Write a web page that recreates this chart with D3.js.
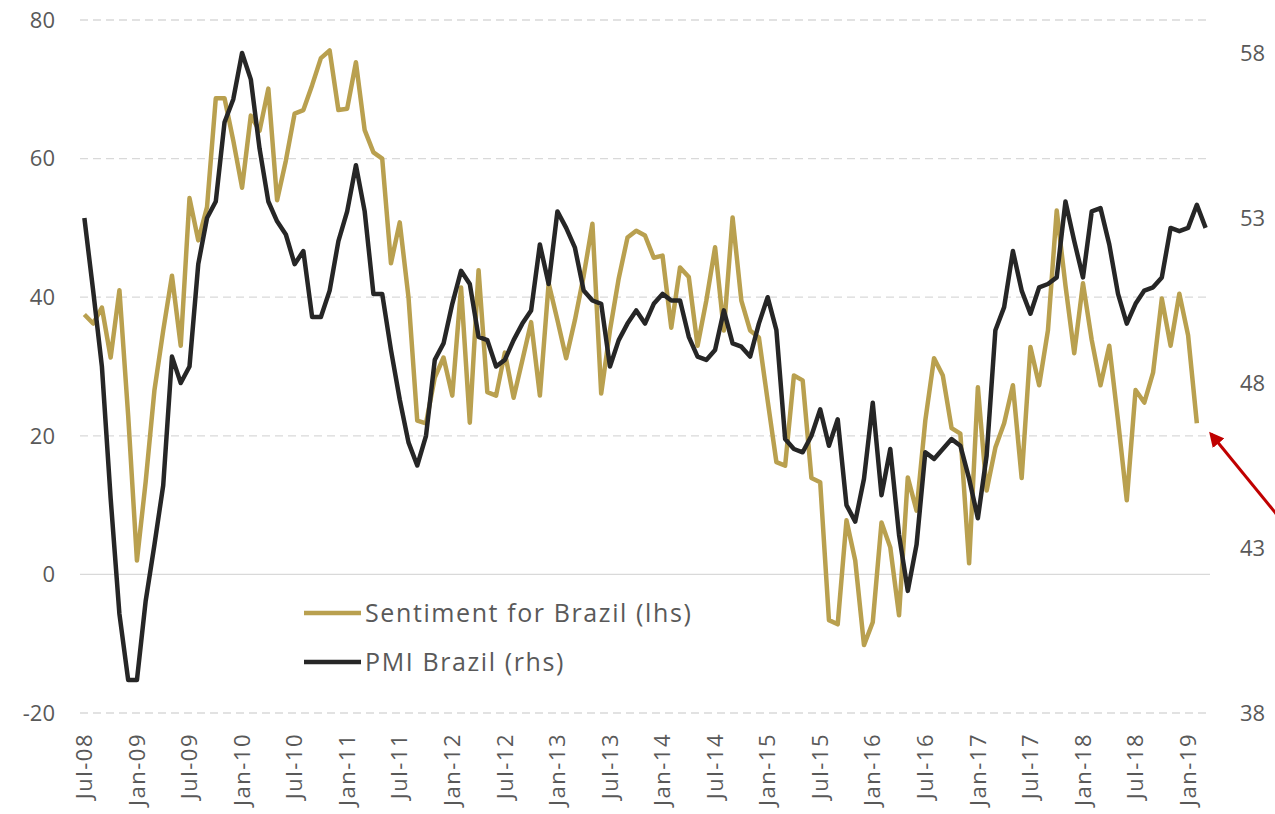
<!DOCTYPE html>
<html>
<head>
<meta charset="utf-8">
<script src="https://cdn.jsdelivr.net/npm/d3@7"></script>
<style>
  body { margin: 0; background: #fff; }
  svg text { font-family: "Open Sans", "Noto Sans", sans-serif; fill: #595959; }
</style>
</head>
<body>
<svg id="chart" width="1275" height="814"></svg>
<script>
// monthly, Jul-08 .. Mar-19
var startMonth = new Date(2008, 6, 1)
var monthCount = 129
var tickEvery = 6
var tickLabels = ['Jul-08', 'Jan-09', 'Jul-09', 'Jan-10', 'Jul-10', 'Jan-11', 'Jul-11', 'Jan-12',
    'Jul-12', 'Jan-13', 'Jul-13', 'Jan-14', 'Jul-14', 'Jan-15', 'Jul-15', 'Jan-16', 'Jul-16',
    'Jan-17', 'Jul-17', 'Jan-18', 'Jul-18', 'Jan-19']

var leftTicks = [-20, 0, 20, 40, 60, 80]
var rightTicks = [38, 43, 48, 53, 58]

// Sentiment for Brazil (lhs), Jul-08 .. Feb-19
var sentiment = [
    37.5, 36.2, 38.5, 31.3, 41.0, 22.9, 2.0, 13.4, 26.6, 35.2, 43.1, 33.0,
    54.3, 48.2, 53.0, 68.7, 68.7, 62.6, 55.8, 66.2, 64.0, 70.1, 54.0, 59.7,
    66.5, 67.0, 70.6, 74.5, 75.6, 67.0, 67.2, 73.9, 64.1, 60.9, 60.0, 44.9,
    50.8, 40.0, 22.2, 21.8, 28.4, 31.3, 25.8, 41.4, 21.9, 43.9, 26.3, 25.8,
    32.0, 25.5, 30.9, 36.4, 25.8, 42.0, 36.7, 31.2, 36.7, 43.1, 50.6, 26.1,
    35.2, 42.7, 48.6, 49.6, 48.9, 45.7, 46.0, 35.6, 44.3, 42.9, 33.0, 39.5,
    47.2, 35.2, 51.5, 39.5, 35.2, 34.2, 25.1, 16.2, 15.7, 28.7, 28.0, 13.9,
    13.3, -6.6, -7.2, 7.8, 2.0, -10.2, -6.9, 7.5, 3.9, -5.9, 14.0, 9.2,
    22.2, 31.2, 28.7, 21.1, 20.3, 1.6, 27.0, 12.1, 18.3, 21.8, 27.3, 13.9,
    32.8, 27.3, 35.2, 52.5, 41.7, 31.9, 42.0, 33.8, 27.3, 33.0, 22.2, 10.7,
    26.6, 24.8, 29.1, 39.8, 33.0, 40.5, 34.5, 21.8
]

// PMI Brazil (rhs), Jul-08 .. Mar-19
var pmi = [
    53.0, 50.8, 48.5, 44.5, 41.0, 39.0, 39.0, 41.4, 43.1, 44.9, 48.8, 48.0,
    48.5, 51.6, 53.0, 53.5, 55.9, 56.6, 58.0, 57.2, 55.1, 53.5, 52.9, 52.5,
    51.6, 52.0, 50.0, 50.0, 50.8, 52.3, 53.2, 54.6, 53.2, 50.7, 50.7, 49.0,
    47.5, 46.2, 45.5, 46.4, 48.7, 49.2, 50.4, 51.4, 51.0, 49.4, 49.3, 48.5,
    48.7, 49.3, 49.8, 50.2, 52.2, 51.0, 53.2, 52.7, 52.1, 50.8, 50.5, 50.4,
    48.5, 49.3, 49.8, 50.2, 49.8, 50.4, 50.7, 50.5, 50.5, 49.4, 48.8, 48.7,
    49.0, 50.2, 49.2, 49.1, 48.8, 49.8, 50.6, 49.6, 46.3, 46.0, 45.9, 46.4,
    47.2, 46.1, 46.9, 44.3, 43.8, 45.1, 47.4, 44.6, 46.0, 43.4, 41.7, 43.1,
    45.9, 45.7, 46.0, 46.3, 46.1, 45.1, 43.9, 45.8, 49.6, 50.3, 52.0, 50.8,
    50.1, 50.9, 51.0, 51.2, 53.5, 52.3, 51.2, 53.2, 53.3, 52.2, 50.7, 49.8,
    50.4, 50.8, 50.9, 51.2, 52.7, 52.6, 52.7, 53.4, 52.7
]

var series = [
    { name: 'Sentiment for Brazil (lhs)', values: sentiment, axis: 'left', color: '#b9a04f' },
    { name: 'PMI Brazil (rhs)', values: pmi, axis: 'right', color: '#262626' }
]

var svg = d3.select('#chart')
var margin = { left: 80, right: 65, top: 20, bottom: 101 }
var W = 1275, H = 814
var fontSize = 22

var months = d3.timeMonth.range(startMonth, d3.timeMonth.offset(startMonth, monthCount))
var x = d3.scalePoint()
    .domain(d3.range(months.length))
    .range([margin.left, W - margin.right])
    .padding(0.5)
var yL = d3.scaleLinear().domain([-20, 80]).range([H - margin.bottom, margin.top])
// right axis runs a bit past its last tick, like the original
var yR = d3.scaleLinear().domain([38, 59]).range([H - margin.bottom, margin.top])

// grid
svg.append('g')
    .selectAll('line')
    .data(leftTicks)
    .join('line')
    .attr('x1', margin.left)
    .attr('x2', W - margin.right)
    .attr('y1', d => yL(d))
    .attr('y2', d => yL(d))
    .attr('stroke', '#d9d9d9')
    .attr('stroke-width', 1.3)
    .attr('stroke-dasharray', d => d == 0 ? null : '8,5')

// left labels
svg.append('g')
    .selectAll('text')
    .data(leftTicks)
    .join('text')
    .attr('x', 55)
    .attr('y', d => yL(d))
    .attr('dy', '0.35em')
    .attr('text-anchor', 'end')
    .attr('font-size', fontSize)
    .text(d => d)

// right labels
svg.append('g')
    .selectAll('text')
    .data(rightTicks)
    .join('text')
    .attr('x', 1240)
    .attr('y', d => yR(d))
    .attr('dy', '0.35em')
    .attr('font-size', fontSize)
    .text(d => d)

// x labels, every 6th month
svg.append('g')
    .selectAll('text')
    .data(tickLabels)
    .join('text')
    .attr('transform', (d, i) => `translate(${x(i * tickEvery)},${H - margin.bottom + 20}) rotate(-90)`)
    .attr('dy', '0.35em')
    .attr('text-anchor', 'end')
    .attr('font-size', fontSize)
    .attr('letter-spacing', 1.5)
    .text(d => d)

// lines
series.forEach(s => {
    var y = s.axis == 'left' ? yL : yR
    var line = d3.line()
        .x((d, i) => x(i))
        .y(d => y(d))
    svg.append('path')
        .datum(s.values)
        .attr('d', line)
        .attr('fill', 'none')
        .attr('stroke', s.color)
        .attr('stroke-width', 4.5)
        .attr('stroke-linejoin', 'round')
})

// legend
var legend = svg.append('g').attr('transform', 'translate(304,613)')
series.forEach((s, i) => {
    legend.append('line')
        .attr('x1', 0)
        .attr('x2', 57)
        .attr('y1', i * 49)
        .attr('y2', i * 49)
        .attr('stroke', s.color)
        .attr('stroke-width', 4.5)
    legend.append('text')
        .attr('x', 61)
        .attr('y', i * 49)
        .attr('dy', '0.35em')
        .attr('font-size', 25)
        .attr('letter-spacing', 1.6)
        .text(s.name)
})

// red arrow pointing at last sentiment reading
svg.append('defs').append('marker')
    .attr('id', 'head')
    .attr('viewBox', '0 0 10 10')
    .attr('refX', 8)
    .attr('refY', 5)
    .attr('markerWidth', 5)
    .attr('markerHeight', 5)
    .attr('orient', 'auto')
    .append('path')
    .attr('d', 'M0,0 L10,5 L0,10 z')
    .attr('fill', '#c00000')
svg.append('line')
    .attr('x1', 1278)
    .attr('y1', 516)
    .attr('x2', 1211)
    .attr('y2', 434)
    .attr('stroke', '#c00000')
    .attr('stroke-width', 3)
    .attr('marker-end', 'url(#head)')
</script>
</body>
</html>
